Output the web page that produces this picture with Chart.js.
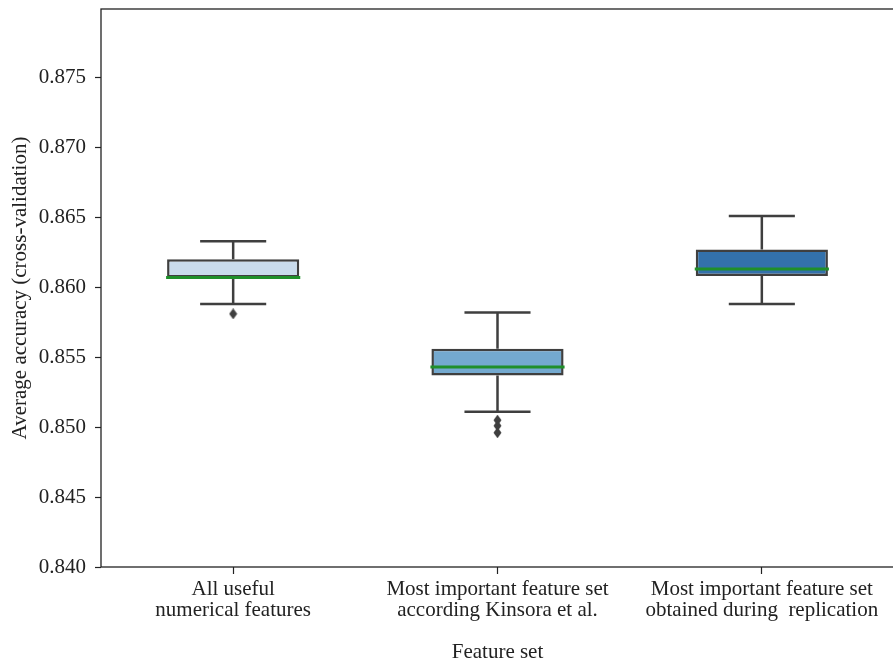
<!DOCTYPE html>
<html>
<head>
<meta charset="utf-8">
<script src="https://cdn.jsdelivr.net/npm/chart.js@4/dist/chart.umd.min.js"></script>
<style>
  html, body { margin: 0; padding: 0; overflow: hidden; background: #fff; }
  #wrap { position: relative; width: 900px; height: 662px; }
</style>
</head>
<body>
<div id="wrap"><canvas id="myChart"></canvas></div>
<script>
'use strict';

// box plot summary per feature set
let categories = [
  ['All useful', 'numerical features'],
  ['Most important feature set', 'according Kinsora et al.'],
  ['Most important feature set', 'obtained during  replication']
];
let whiskerLow = [0.8588, 0.8511, 0.8588];
let q1 = [0.8607, 0.8537, 0.8608];
let median = [0.8607, 0.8543, 0.8613];
let q3 = [0.8620, 0.8556, 0.8627];
let whiskerHigh = [0.8633, 0.8582, 0.8651];
// fliers, one array per rank, indexed by category
let outliersA = [0.8581, 0.8505, null];
let outliersB = [null, 0.8501, null];
let outliersC = [null, 0.8496, null];
let yTicks = [0.840, 0.845, 0.850, 0.855, 0.860, 0.865, 0.870, 0.875];

let boxColors = ['#c9dbec', '#74a9cf', '#3371ab'];
let edgeColor = '#3f3f3f';
let medianColor = '#1f8f2a';
let fontFamily = '"Liberation Serif", "DejaVu Serif", serif';

let boxes = [];
for (let i = 0; i < categories.length; i++) {
  boxes.push([q1[i], q3[i]]);
}

// thin diamond marker for the fliers
let diamond = document.createElement('canvas');
diamond.width = 9;
diamond.height = 11;
let dctx = diamond.getContext('2d');
dctx.fillStyle = edgeColor;
dctx.beginPath();
dctx.moveTo(4.5, 0);
dctx.lineTo(8.5, 5.5);
dctx.lineTo(4.5, 11);
dctx.lineTo(0.5, 5.5);
dctx.closePath();
dctx.fill();

function flierSet(values) {
  return {
    type: 'line',
    data: values,
    showLine: false,
    pointStyle: diamond,
    pointRadius: 5,
    order: 1
  };
}

// whiskers, medians and the frame around the plot
let boxPlotParts = {
  id: 'boxPlotParts',
  beforeDatasetsDraw(chart) {
    let ctx = chart.ctx;
    let x = chart.scales.x;
    let y = chart.scales.y;
    let boxMeta = chart.getDatasetMeta(0);
    ctx.save();
    ctx.strokeStyle = edgeColor;
    ctx.lineWidth = 2.5;
    for (let i = 0; i < categories.length; i++) {
      let cx = x.getPixelForValue(i);
      let half = boxMeta.data[i].width / 4;
      ctx.beginPath();
      ctx.moveTo(cx, y.getPixelForValue(q3[i]));
      ctx.lineTo(cx, y.getPixelForValue(whiskerHigh[i]));
      ctx.moveTo(cx - half, y.getPixelForValue(whiskerHigh[i]));
      ctx.lineTo(cx + half, y.getPixelForValue(whiskerHigh[i]));
      ctx.moveTo(cx, y.getPixelForValue(q1[i]));
      ctx.lineTo(cx, y.getPixelForValue(whiskerLow[i]));
      ctx.moveTo(cx - half, y.getPixelForValue(whiskerLow[i]));
      ctx.lineTo(cx + half, y.getPixelForValue(whiskerLow[i]));
      ctx.stroke();
    }
    ctx.restore();
  },
  afterDatasetsDraw(chart) {
    let ctx = chart.ctx;
    let y = chart.scales.y;
    let boxMeta = chart.getDatasetMeta(0);
    let area = chart.chartArea;
    ctx.save();
    ctx.strokeStyle = medianColor;
    ctx.lineWidth = 3;
    for (let i = 0; i < categories.length; i++) {
      let bar = boxMeta.data[i];
      let my = y.getPixelForValue(median[i]);
      ctx.beginPath();
      ctx.moveTo(bar.x - bar.width / 2 - 1, my);
      ctx.lineTo(bar.x + bar.width / 2 + 1, my);
      ctx.stroke();
    }
    ctx.strokeStyle = '#222';
    ctx.lineWidth = 1.3;
    ctx.strokeRect(area.left, area.top, area.right - area.left, area.bottom - area.top);
    ctx.restore();
  }
};

Chart.defaults.font.family = fontFamily;
Chart.defaults.color = '#222';

let ctx = document.getElementById('myChart').getContext('2d');

let myChart = new Chart(ctx, {
  type: 'bar',
  data: {
    labels: categories,
    datasets: [
      {
        type: 'bar',
        data: boxes,
        backgroundColor: boxColors,
        borderColor: edgeColor,
        borderWidth: 2.5,
        borderSkipped: false,
        barPercentage: 0.5,
        categoryPercentage: 1,
        order: 2
      },
      flierSet(outliersA),
      flierSet(outliersB),
      flierSet(outliersC)
    ]
  },
  options: {
    responsive: true,
    maintainAspectRatio: false,
    animation: false,
    layout: { padding: { top: 9, right: 2, left: 0, bottom: 0 } },
    plugins: {
      legend: { display: false },
      tooltip: { enabled: false }
    },
    scales: {
      x: {
        type: 'category',
        offset: true,
        afterFit(axis) {
          axis.height = 95;
          axis.paddingLeft = 0;
          axis.paddingRight = 0;
        },
        grid: {
          display: true,
          offset: false,
          drawOnChartArea: false,
          tickLength: 7,
          tickColor: '#222',
          tickWidth: 1.2
        },
        border: { display: false },
        ticks: {
          font: { size: 21, lineHeight: 1.0 },
          color: '#222',
          padding: 5,
          maxRotation: 0,
          autoSkip: false
        },
        title: {
          display: true,
          text: 'Feature set',
          font: { size: 21 },
          color: '#222',
          padding: { top: 0, bottom: -3 }
        }
      },
      y: {
        min: 0.840,
        max: 0.8799,
        afterFit(axis) {
          axis.width = 101;
          axis.paddingTop = 0;
          axis.paddingBottom = 0;
        },
        afterBuildTicks(axis) {
          axis.ticks = yTicks.map(v => ({ value: v }));
        },
        grid: {
          display: true,
          drawOnChartArea: false,
          tickLength: 6,
          tickColor: '#222',
          tickWidth: 1.2
        },
        border: { display: false },
        ticks: {
          font: { size: 21 },
          color: '#222',
          padding: 9,
          callback: v => v.toFixed(3)
        },
        title: {
          display: true,
          text: 'Average accuracy (cross-validation)',
          font: { size: 21 },
          color: '#222',
          padding: { top: 8, bottom: 0 }
        }
      }
    }
  },
  plugins: [boxPlotParts]
});
</script>
</body>
</html>
